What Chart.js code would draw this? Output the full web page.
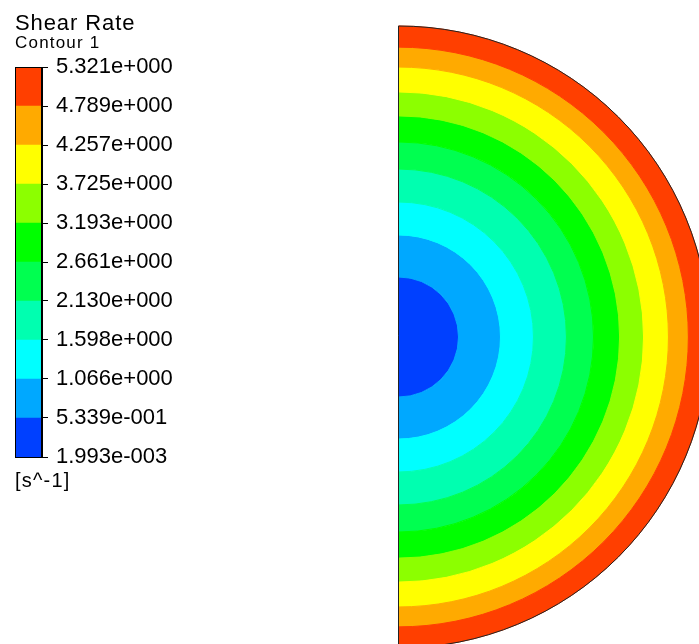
<!DOCTYPE html>
<html>
<head>
<meta charset="utf-8">
<title>Shear Rate – Contour 1</title>
<script src="https://cdn.jsdelivr.net/npm/chart.js@4/dist/chart.umd.min.js"></script>
<style>
  html, body { margin: 0; padding: 0; background: #fff; }
  #stage { position: relative; width: 699px; height: 644px; overflow: hidden; }
  #field, #bar { position: absolute; left: 0; top: 0; }
  .txt { position: absolute; left: 15px; color: #000; font-family: "Liberation Sans", Arial, sans-serif; white-space: nowrap; }
  #title { top: 12px; font-size: 22px; line-height: 22px; letter-spacing: 0.9px; }
  #subtitle { top: 34px; font-size: 17px; line-height: 17px; letter-spacing: 1.2px; }
  #unit { top: 470px; font-size: 20px; line-height: 20px; letter-spacing: 1.2px; }
</style>
</head>
<body>
<div id="stage">
  <canvas id="field" width="699" height="644"></canvas>
  <canvas id="bar" width="240" height="520"></canvas>
  <div class="txt" id="title">Shear Rate</div>
  <div class="txt" id="subtitle">Contour 1</div>
  <div class="txt" id="unit">[s^-1]</div>
</div>
<script>
// Contour levels of the shear rate [1/s], lowest to highest
const levels = [0.001993, 0.5339, 1.066, 1.598, 2.130, 2.661, 3.193, 3.725, 4.257, 4.789, 5.321];
const levelLabels = ['1.993e-003', '5.339e-001', '1.066e+000', '1.598e+000', '2.130e+000',
                     '2.661e+000', '3.193e+000', '3.725e+000', '4.257e+000', '4.789e+000', '5.321e+000'];

// Normalised radius r/R at the outer edge of each band (band i lies between levels[i] and levels[i+1])
const bandOuterRadius = [0.193, 0.328, 0.434, 0.540, 0.627, 0.711, 0.788, 0.868, 0.932, 1.000];

// Banded rainbow colour map, one colour per band
const bandColors = ['#0040ff', '#00a8ff', '#00ffff', '#00ffb0', '#00ff50',
                    '#00ff00', '#8cff00', '#ffff00', '#ffaa00', '#ff3f00'];

const FONT = '"Liberation Sans", Arial, sans-serif';

// ---- Cross-section: one ring per band, outermost ring first ----
const ringDatasets = [];
for (let i = bandOuterRadius.length - 1; i >= 0; i--) {
  const inner = i > 0 ? bandOuterRadius[i - 1] : 0;
  ringDatasets.push({
    label: levelLabels[i] + ' – ' + levelLabels[i + 1],
    data: [1],
    weight: bandOuterRadius[i] - inner,
    backgroundColor: bandColors[i],
    borderColor: bandColors[i],
    borderWidth: 1,
    hoverOffset: 0
  });
}

// Wall outline: outer arc plus the symmetry line
const wallOutline = {
  id: 'wallOutline',
  afterDatasetsDraw(chart) {
    const arc = chart.getDatasetMeta(0).data[0];
    if (!arc) return;
    const { x, y, outerRadius } = arc.getProps(['x', 'y', 'outerRadius'], true);
    const ctx = chart.ctx;
    ctx.save();
    ctx.beginPath();
    ctx.moveTo(x, y - outerRadius);
    ctx.arc(x, y, outerRadius, -Math.PI / 2, Math.PI / 2);
    ctx.closePath();
    ctx.lineWidth = 1;
    ctx.strokeStyle = '#222';
    ctx.stroke();
    ctx.restore();
  }
};

new Chart(document.getElementById('field'), {
  type: 'doughnut',
  data: { labels: ['shear rate'], datasets: ringDatasets },
  options: {
    responsive: false,
    animation: false,
    events: [],
    circumference: 180,
    rotation: 0,
    cutout: 0,
    radius: 311,
    layout: { padding: { left: 409, right: 0, top: 30, bottom: 0 } },
    plugins: { legend: { display: false }, tooltip: { enabled: false } }
  },
  plugins: [wallOutline]
});

// ---- Colour bar legend ----
const barDatasets = levels.slice(0, -1).map((lo, i) => ({
  label: levelLabels[i],
  data: [[lo, levels[i + 1]]],
  backgroundColor: bandColors[i],
  borderWidth: 0,
  barPercentage: 1,
  categoryPercentage: 1,
  grouped: false
}));

const barFrame = {
  id: 'barFrame',
  afterDatasetsDraw(chart) {
    const a = chart.chartArea;
    const ctx = chart.ctx;
    ctx.save();
    ctx.lineWidth = 1;
    ctx.strokeStyle = '#000';
    ctx.strokeRect(Math.round(a.left) + 0.5, Math.round(a.top) + 0.5,
                   Math.round(a.right - a.left) - 1, Math.round(a.bottom - a.top));
    ctx.restore();
  }
};

new Chart(document.getElementById('bar'), {
  type: 'bar',
  data: { labels: [''], datasets: barDatasets },
  options: {
    responsive: false,
    animation: false,
    events: [],
    layout: { padding: { left: 15, top: 67, bottom: 63, right: 53 } },
    scales: {
      x: { display: false },
      y: {
        position: 'right',
        min: levels[0],
        max: levels[levels.length - 1],
        afterBuildTicks: (scale) => { scale.ticks = levels.map(v => ({ value: v })); },
        afterFit: (scale) => { scale.width = 145; },
        ticks: {
          autoSkip: false,
          padding: 8,
          color: '#000',
          font: { family: FONT, size: 22 },
          callback: (value, index) => levelLabels[index]
        },
        grid: { drawOnChartArea: false, tickLength: 6, color: '#000', lineWidth: 1 },
        border: { display: true, color: '#000', width: 1 }
      }
    },
    plugins: { legend: { display: false }, tooltip: { enabled: false } }
  },
  plugins: [barFrame]
});
</script>
</body>
</html>
